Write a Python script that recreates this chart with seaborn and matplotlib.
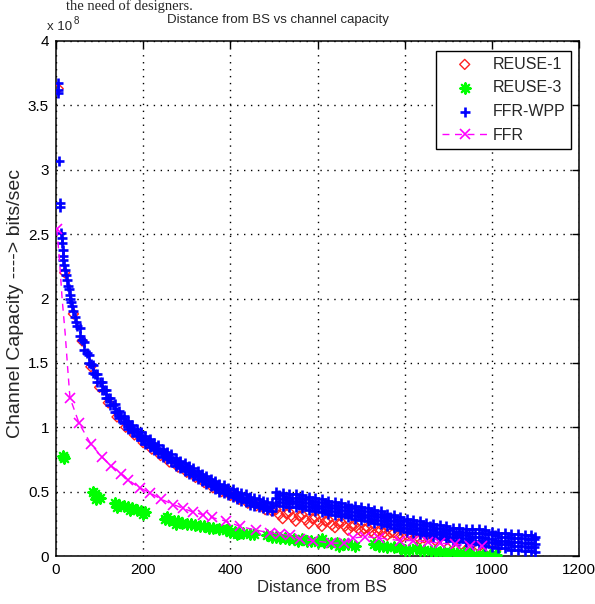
import matplotlib
matplotlib.use("Agg")
import matplotlib.pyplot as plt
from matplotlib.ticker import FuncFormatter
import seaborn as sns

# ---------------- data (capacity in units of 1e8 bits/sec) ----------------
REUSE1_D = [5, 20, 40, 60, 80, 100, 120, 140, 160, 180, 200, 220, 240, 260, 280,
            300, 320, 340, 360, 380, 400, 420, 440, 460, 480, 495,
            505, 512, 520, 528, 535, 543, 550, 558, 565, 573, 580, 588,
            595, 603, 610, 618, 625, 633, 640, 648, 655, 663, 670, 678,
            685, 693, 700, 708, 715, 723, 730, 738, 745, 753, 760, 768,
            775, 785, 795, 805, 815, 825, 835, 845, 855, 870, 890, 910,
            930, 950, 970, 990, 1010]
REUSE1_Y = [3.63, 2.20, 1.88, 1.67, 1.47, 1.31, 1.19, 1.08, 1.00, 0.94, 0.88, 0.83,
            0.78, 0.73, 0.69, 0.65, 0.61, 0.57, 0.53, 0.50, 0.47, 0.44, 0.41, 0.39,
            0.36, 0.35,
            0.36, 0.32, 0.29, 0.33, 0.34, 0.30, 0.27, 0.31, 0.32, 0.28, 0.25, 0.29,
            0.30, 0.26, 0.23, 0.27, 0.28, 0.24, 0.22, 0.25, 0.26, 0.23, 0.20, 0.23,
            0.24, 0.21, 0.19, 0.21, 0.22, 0.19, 0.17, 0.19, 0.20, 0.18, 0.16, 0.18,
            0.18, 0.16, 0.15, 0.16, 0.16, 0.14, 0.13, 0.14, 0.14, 0.12, 0.11, 0.10,
            0.09, 0.08, 0.07, 0.06, 0.05]

REUSE3_D = [16, 19, 85, 90, 95, 100, 92,
            135, 145, 155, 165, 175, 185, 195, 205, 140, 170, 200,
            250, 260, 270, 280, 290, 300, 310, 320, 330, 255, 275,
            340, 350, 360, 375, 390, 400, 410, 420, 430, 445, 455, 395, 415,
            485, 495, 505, 515, 525, 535, 545, 555,
            565, 575, 585, 600, 615, 630, 645, 660, 670, 685, 610, 650,
            730, 740, 750, 760, 775, 790, 800, 810, 825, 835, 845, 860, 870, 880,
            890, 905, 920, 935, 950, 965, 980, 995, 1010]
REUSE3_Y = [0.78, 0.76, 0.50, 0.48, 0.46, 0.45, 0.44,
            0.41, 0.40, 0.39, 0.38, 0.37, 0.36, 0.35, 0.34, 0.38, 0.36, 0.33,
            0.29, 0.28, 0.27, 0.27, 0.26, 0.25, 0.25, 0.24, 0.23, 0.30, 0.25,
            0.23, 0.22, 0.22, 0.21, 0.20, 0.19, 0.19, 0.18, 0.18, 0.17, 0.17, 0.21, 0.17,
            0.16, 0.15, 0.15, 0.14, 0.14, 0.13, 0.13, 0.12,
            0.13, 0.12, 0.12, 0.11, 0.11, 0.10, 0.10, 0.09, 0.09, 0.08, 0.13, 0.08,
            0.09, 0.08, 0.08, 0.07, 0.07, 0.06, 0.05, 0.05, 0.06, 0.05, 0.05, 0.04, 0.04, 0.03,
            0.03, 0.03, 0.02, 0.02, 0.02, 0.01, 0.01, 0.01, 0.01]

# FFR-WPP: isolated points near the BS
WPP_START_D = [4, 4, 5, 6, 9, 10, 12, 13, 14, 15, 16, 17, 19, 21, 23, 25, 27, 29, 31,
               33, 35, 37, 40, 43, 46, 49]
WPP_START_Y = [3.67, 3.62, 3.60, 3.07, 2.74, 2.71, 2.51, 2.47, 2.43, 2.38, 2.33, 2.30,
               2.26, 2.22, 2.18, 2.14, 2.10, 2.07, 2.03, 2.00, 1.97, 1.94, 1.90, 1.86,
               1.82, 1.79]
# FFR-WPP: dense band 55..495 (upper / lower edge, and a middle row)
WPP_NEAR_D = [55, 65, 75, 85, 95, 105, 115, 125, 135, 145, 155, 165, 175, 185, 195,
              205, 215, 225, 235, 245, 255, 265, 275, 285, 295, 305, 315, 325, 335,
              345, 355, 365, 375, 385, 395, 405, 415, 425, 435, 445, 455, 465, 475,
              485, 495]
WPP_NEAR_HI = [1.77, 1.66, 1.56, 1.48, 1.41, 1.35, 1.29, 1.23, 1.18, 1.13, 1.09, 1.05,
               1.02, 0.99, 0.96, 0.93, 0.91, 0.88, 0.86, 0.83, 0.81, 0.79, 0.76, 0.74,
               0.72, 0.70, 0.68, 0.66, 0.64, 0.62, 0.60, 0.58, 0.56, 0.55, 0.53, 0.52,
               0.50, 0.49, 0.48, 0.46, 0.45, 0.44, 0.43, 0.42, 0.41]
WPP_NEAR_LO = [1.71, 1.60, 1.50, 1.42, 1.35, 1.29, 1.23, 1.17, 1.12, 1.07, 1.03, 0.99,
               0.96, 0.93, 0.90, 0.87, 0.85, 0.82, 0.80, 0.77, 0.75, 0.73, 0.70, 0.68,
               0.66, 0.64, 0.62, 0.60, 0.58, 0.56, 0.54, 0.52, 0.50, 0.49, 0.47, 0.46,
               0.44, 0.43, 0.42, 0.40, 0.39, 0.38, 0.37, 0.36, 0.35]
WPP_NEAR_D2 = [60, 70, 80, 90, 100, 110, 120, 130, 140, 150, 160, 170, 180, 190, 200,
               210, 220, 230, 240, 250, 260, 270, 280, 290, 300, 310, 320, 330, 340,
               350, 360, 370, 380, 390, 400, 410, 420, 430, 440, 450, 460, 470, 480, 490]
WPP_NEAR_MID = [1.68, 1.58, 1.49, 1.41, 1.35, 1.29, 1.23, 1.17, 1.12, 1.08, 1.04, 1.00,
                0.97, 0.94, 0.91, 0.89, 0.86, 0.84, 0.81, 0.79, 0.77, 0.74, 0.72, 0.70,
                0.68, 0.66, 0.64, 0.62, 0.60, 0.58, 0.56, 0.54, 0.52, 0.51, 0.49, 0.48,
                0.46, 0.45, 0.44, 0.42, 0.41, 0.40, 0.39, 0.38]
# FFR-WPP: wider band 505..1100 (three rows, plus two staggered rows)
WPP_FAR_D = [505, 520, 535, 550, 565, 580, 595, 610, 625, 640, 655, 670, 685, 700,
             715, 730, 745, 760, 775, 790, 805, 820, 835, 850, 865, 880, 895, 910,
             925, 940, 955, 970, 985, 1000, 1015, 1030, 1045, 1060, 1075, 1090, 1100]
WPP_FAR_HI = [0.50, 0.49, 0.48, 0.48, 0.47, 0.46, 0.45, 0.44, 0.43, 0.42, 0.41, 0.40,
              0.39, 0.38, 0.37, 0.36, 0.35, 0.33, 0.32, 0.30, 0.29, 0.28, 0.27, 0.26,
              0.25, 0.24, 0.23, 0.22, 0.22, 0.21, 0.21, 0.21, 0.20, 0.19, 0.18, 0.18,
              0.17, 0.17, 0.16, 0.16, 0.15]
WPP_FAR_MID = [0.45, 0.44, 0.43, 0.43, 0.42, 0.41, 0.40, 0.39, 0.38, 0.37, 0.36, 0.35,
               0.34, 0.33, 0.32, 0.31, 0.30, 0.28, 0.27, 0.25, 0.24, 0.23, 0.22, 0.21,
               0.20, 0.19, 0.18, 0.17, 0.17, 0.16, 0.15, 0.15, 0.14, 0.13, 0.12, 0.12,
               0.11, 0.11, 0.10, 0.10, 0.09]
WPP_FAR_LO = [0.40, 0.39, 0.38, 0.38, 0.37, 0.36, 0.35, 0.34, 0.33, 0.32, 0.31, 0.30,
              0.29, 0.28, 0.27, 0.26, 0.25, 0.23, 0.22, 0.20, 0.19, 0.18, 0.17, 0.16,
              0.15, 0.14, 0.13, 0.12, 0.12, 0.11, 0.09, 0.09, 0.08, 0.07, 0.06, 0.06,
              0.05, 0.05, 0.04, 0.04, 0.03]
WPP_FAR_D2 = [512, 527, 542, 557, 572, 587, 602, 617, 632, 647, 662, 677, 692, 707,
              722, 737, 752, 767, 782, 797, 812, 827, 842, 857, 872, 887, 902, 917,
              932, 947, 962, 977, 992, 1007, 1022, 1037, 1052, 1067, 1082, 1097]
WPP_FAR_HI2 = [0.47, 0.46, 0.45, 0.45, 0.44, 0.43, 0.42, 0.41, 0.40, 0.39, 0.38, 0.37,
               0.36, 0.35, 0.34, 0.33, 0.31, 0.30, 0.28, 0.27, 0.26, 0.25, 0.24, 0.23,
               0.22, 0.21, 0.20, 0.19, 0.19, 0.18, 0.18, 0.18, 0.17, 0.16, 0.15, 0.15,
               0.14, 0.14, 0.13, 0.13]
WPP_FAR_LO2 = [0.42, 0.41, 0.41, 0.40, 0.39, 0.38, 0.37, 0.36, 0.35, 0.34, 0.33, 0.32,
               0.31, 0.30, 0.29, 0.28, 0.27, 0.25, 0.24, 0.22, 0.21, 0.20, 0.19, 0.18,
               0.17, 0.16, 0.15, 0.15, 0.14, 0.13, 0.12, 0.12, 0.11, 0.10, 0.09, 0.09,
               0.08, 0.08, 0.07, 0.07]

FFR_D = [2, 8, 14, 21, 27, 32, 53, 80, 105, 127, 150, 166, 192, 216, 242, 269, 292,
         315, 338, 357, 391, 422, 460, 491, 514, 537, 560, 590, 632, 660, 682, 710,
         740, 789, 820, 853, 880, 915, 950, 977]
FFR_Y = [2.54, 2.30, 2.00, 1.73, 1.45, 1.23, 1.03, 0.87, 0.77, 0.70, 0.64, 0.59, 0.53,
         0.49, 0.44, 0.40, 0.37, 0.34, 0.32, 0.30, 0.27, 0.23, 0.20, 0.18, 0.17, 0.16,
         0.13, 0.12, 0.10, 0.10, 0.14, 0.15, 0.14, 0.12, 0.12, 0.11, 0.10, 0.09, 0.08,
         0.075]
FFR_MARK = [0] + list(range(5, len(FFR_D)))

X_TICKS = [0, 200, 400, 600, 800, 1000, 1200]
Y_TICKS = [0, 0.5, 1, 1.5, 2, 2.5, 3, 3.5, 4]

TITLE = "Distance from BS vs channel capacity"
XLABEL = "Distance from BS"
YLABEL = "Channel Capacity ----> bits/sec"

FFRWPP_D = (WPP_START_D + WPP_NEAR_D + WPP_NEAR_D + WPP_NEAR_D2
            + WPP_FAR_D + WPP_FAR_D + WPP_FAR_D + WPP_FAR_D2 + WPP_FAR_D2)
FFRWPP_Y = (WPP_START_Y + WPP_NEAR_HI + WPP_NEAR_LO + WPP_NEAR_MID
            + WPP_FAR_HI + WPP_FAR_MID + WPP_FAR_LO + WPP_FAR_HI2 + WPP_FAR_LO2)

# ---------------- figure ----------------
sns.set_style("white")
plt.rcParams["font.family"] = ["Liberation Sans", "DejaVu Sans"]

W, H = 595, 604
fig = plt.figure(figsize=(W / 100, H / 100), dpi=100)
L, R, T, B = 56, 579, 41, 556
ax = fig.add_axes([L / W, 1 - B / H, (R - L) / W, (B - T) / H])

sns.scatterplot(x=REUSE1_D, y=REUSE1_Y, ax=ax, marker="D", s=26,
                facecolor="none", edgecolor="#ff2020", linewidth=1.0,
                label="REUSE-1", zorder=3)
sns.scatterplot(x=REUSE3_D, y=REUSE3_Y, ax=ax, marker=(8, 2, 0), s=55,
                color="#00ff00", linewidth=1.6, label="REUSE-3", zorder=3)
sns.scatterplot(x=FFRWPP_D, y=FFRWPP_Y, ax=ax, marker="+", s=50,
                color="#0000ff", linewidth=1.9, label="FFR-WPP", zorder=4)
sns.lineplot(x=FFR_D, y=FFR_Y, ax=ax, color="#ff00ff", linestyle=(0, (5, 4)),
             linewidth=1.0, marker="x", markersize=7, markeredgewidth=1.2,
             markeredgecolor="#ff00ff", markevery=FFR_MARK, sort=False,
             estimator=None, label="FFR", zorder=5)

ax.set_xlim(0, 1200)
ax.set_ylim(0, 4)
ax.set_xticks(X_TICKS)
ax.set_yticks(Y_TICKS)
ax.yaxis.set_major_formatter(FuncFormatter(lambda v, p: f"{v:g}"))
ax.tick_params(direction="in", top=True, right=True, length=5, width=1.0,
               labelsize=11, colors="black", pad=5)
ax.grid(True, color="black", linestyle=(0, (1, 4)), linewidth=1.0)
ax.set_axisbelow(True)
for sp in ax.spines.values():
    sp.set_visible(True)
    sp.set_color("black")
    sp.set_linewidth(1.1)

ax.set_xlabel(XLABEL, fontsize=12, va="center")
ax.xaxis.set_label_coords((322 - L) / (R - L), (B - 588) / (B - T))
ax.set_ylabel(YLABEL, fontsize=14, va="center")
ax.yaxis.set_label_coords((15.5 - L) / (R - L), (B - 303) / (B - T))

# legend
handles, labels = ax.get_legend_handles_labels()
order = ["REUSE-1", "REUSE-3", "FFR-WPP", "FFR"]
hmap = dict(zip(labels, handles))
leg = ax.legend([hmap[k] for k in order], order, loc="upper right",
                bbox_to_anchor=((571 - L) / (R - L), (B - 51) / (B - T)),
                borderaxespad=0, fontsize=11.5, frameon=True, fancybox=False,
                framealpha=1, edgecolor="black", handlelength=2.9,
                handletextpad=0.3, borderpad=0.35, labelspacing=0.55,
                scatterpoints=1, numpoints=1)
leg.get_frame().set_linewidth(1.0)

fig.text(278 / W, 1 - 20 / H, TITLE, ha="center", va="center", fontsize=9.5)
fig.text(47 / W, 1 - 30 / H, "x 10", ha="left", va="baseline", fontsize=9.5)
fig.text(74 / W, 1 - 24 / H, "8", ha="left", va="baseline", fontsize=7)
fig.text(193 / W, 1 - 10 / H, "the need of designers.", ha="right", va="baseline",
         fontsize=10.5, family=["Liberation Serif", "DejaVu Serif"])

fig.savefig("out.png", dpi=100)
